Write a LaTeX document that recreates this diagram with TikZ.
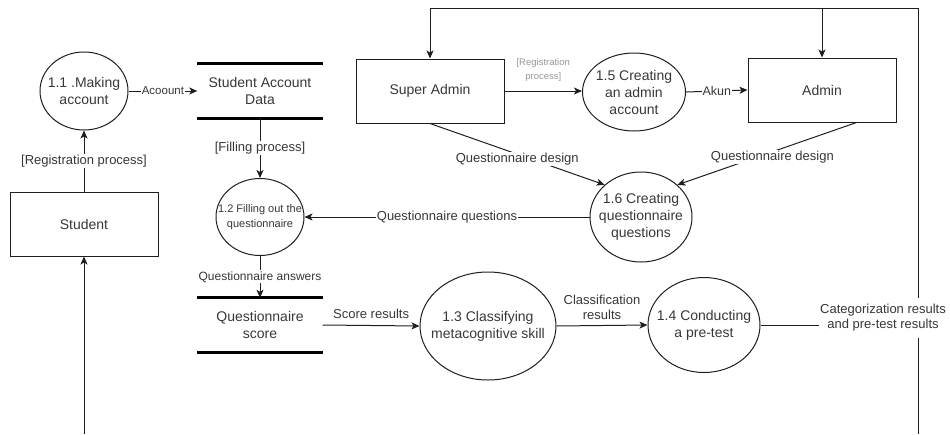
\documentclass[tikz,border=0pt]{standalone}
\usepackage{fontspec}
\setmainfont{Liberation Sans}
\usepackage{tikz}
\usetikzlibrary{arrows.meta,shapes.geometric,positioning}
\definecolor{ln}{RGB}{30,30,30}
\definecolor{txt}{RGB}{55,55,55}
\definecolor{faint}{RGB}{150,150,150}
\tikzset{
    >={Stealth[length=8pt,width=7pt,inset=2pt]},
    x=1pt, y=-1pt,
    every node/.style={
        text=txt,
        font={\fontsize{14pt}{17pt}\selectfont}
    },
    proc/.style={
        ellipse,
        draw=ln, line width=1pt,
        inner sep=0pt
    },
    ptext/.style={
        align=center,
        inner sep=0pt
    },
    extern/.style={
        rectangle,
        draw=ln, line width=1pt,
        minimum width=148pt,
        minimum height=64pt
    },
    store/.style={
        align=center,
        minimum width=125pt,
        minimum height=54pt
    },
    storeline/.style={draw=black, line width=3pt},
    line/.style={draw=ln, line width=1pt},
    flow/.style={draw=ln, line width=1pt, ->},
    flowlbl/.style={
        fill=white, inner sep=1pt,
        font={\fontsize{13pt}{15pt}\selectfont}
    },
    smalllbl/.style={
        fill=white, inner sep=1pt,
        font={\fontsize{11.5pt}{13pt}\selectfont}
    },
}

\begin{document}
\begin{tikzpicture}
\useasboundingbox (0,0) rectangle (950,434);
% externals
\node[extern] (student) at (84,224) {Student};
\node[extern] (superadmin) at (430,91) {Super Admin};
\node[extern] (admin) at (822,90) {Admin};
% processes
\node[proc, minimum width=88pt, minimum height=78pt,
    label={[ptext]center:1.1 .Making\\account}] (p11) at (84,91) {};
\node[proc, minimum width=88pt, minimum height=77pt,
    label={[ptext, font={\fontsize{11pt}{15pt}\selectfont}]center:1.2 Filling out the\\questionnaire}] (p12) at (260,217) {};
\node[proc, minimum width=136pt, minimum height=108pt,
    label={[ptext]center:1.3 Classifying\\metacognitive skill}] (p13) at (488,326) {};
\node[proc, minimum width=112pt, minimum height=95pt,
    label={[ptext]center:1.4 Conducting\\a pre-test}] (p14) at (704,325) {};
\node[proc, minimum width=103pt, minimum height=78pt,
    label={[ptext]center:1.5 Creating\\an admin\\account}] (p15) at (634,92) {};
\node[proc, minimum width=102pt, minimum height=90pt,
    label={[ptext]center:1.6 Creating\\questionnaire\\questions}] (p16) at (641,217) {};
% data stores
\node[store] (sad) at (260,91) {Student Account\\Data};
\node[store] (qs) at (260,325) {Questionnaire\\score};
\draw[storeline] (sad.north west) -- (sad.north east);
\draw[storeline] (sad.south west) -- (sad.south east);
\draw[storeline] (qs.north west) -- (qs.north east);
\draw[storeline] (qs.south west) -- (qs.south east);
% loop round the right side
\coordinate (tr) at (918,8);
\coordinate (bot) at (918,434);
\coordinate (sbot) at (84,434);
\draw[flow] (bot) -- (tr) -| (superadmin.north);
\draw[flow] (admin.north |- tr) -- (admin.north);
\draw[flow] (sbot) -- (student.south);
\node[flowlbl, align=center, inner xsep=1pt, inner ysep=6pt] (catlbl) at (883,318)
    {Categorization results\\and pre-test results};
\draw[line] (p14.east) -- (p14.east -| catlbl.west);
% flows
\draw[flow] (student.north) -- (p11.south) node[flowlbl, midway] {[Registration process]};
\draw[flow] (p11.east) -- (sad.west) node[smalllbl, midway] {Acoount};
\draw[flow] (sad.south) -- (p12.north) node[flowlbl, midway] {[Filling process]};
\draw[flow] (p12.south) -- (qs.north)
    node[smalllbl, midway, font={\fontsize{12pt}{14pt}\selectfont}] {Questionnaire answers};
\draw[flow] (qs.east) -- (p13.west)
    node[flowlbl, midway, above=5pt] {Score results};
\draw[flow] (p13.east) -- (p14.west)
    node[flowlbl, midway, above=4pt, align=center] {Classification\\results};
\draw[flow] (superadmin.east) -- (superadmin.east -| p15.west)
    node[midway, above=6pt, align=center, text=faint,
    font={\fontsize{9.5pt}{14pt}\selectfont}] {[Registration\\process]};
\draw[flow] (p15.east) -- (admin.west) node[flowlbl, midway, font={\fontsize{12.5pt}{14pt}\selectfont}] {Akun};
\draw[flow] (superadmin.south) -- (p16.north west)
    node[flowlbl, pos=0.5, yshift=-5pt] {Questionnaire design};
\draw[flow] ([xshift=-40pt]admin.south east) -- (p16.north east)
    node[flowlbl, pos=0.47, yshift=-5pt] {Questionnaire design};
\draw[flow] (p16.west) -- (p12.east) node[flowlbl, midway] {Questionnaire questions};
\end{tikzpicture}
\end{document}
